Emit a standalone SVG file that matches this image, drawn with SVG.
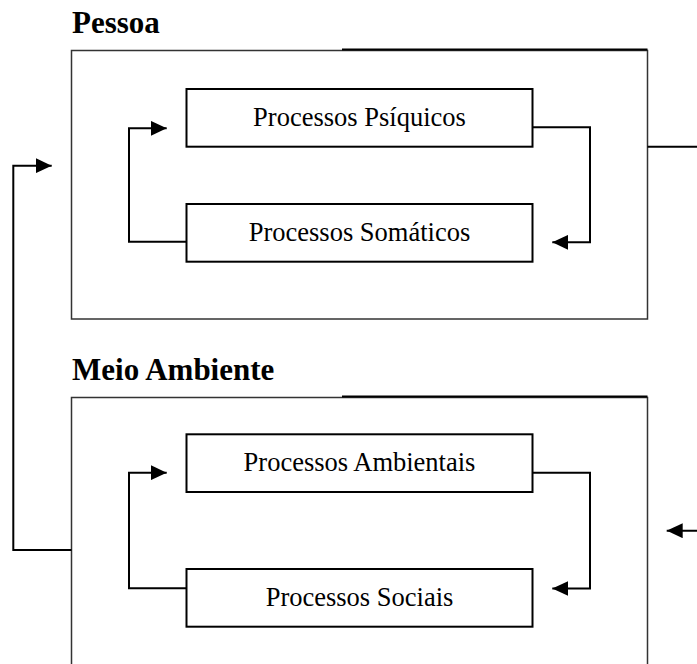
<svg xmlns="http://www.w3.org/2000/svg" width="697" height="664" viewBox="0 0 697 664">
<style>
.title{font-family:"Liberation Serif","Times New Roman",serif;font-weight:bold;font-size:31px;fill:#000}
.lbl{font-family:"Liberation Serif","Times New Roman",serif;font-size:26.5px;fill:#000;text-anchor:middle}
.outer{fill:none;stroke:#333;stroke-width:1.5}
.topr{fill:none;stroke:#000;stroke-width:2}
.box{fill:#fff;stroke:#000;stroke-width:2}
.conn{fill:none;stroke:#000;stroke-width:2}
</style>
<defs>
<marker id="ah" markerUnits="userSpaceOnUse" markerWidth="16" markerHeight="15" refX="16" refY="7.5" orient="auto">
<path d="M0,0 L16,7.5 L0,15 z" fill="#000"/>
</marker>
</defs>
<rect width="697" height="664" fill="#fff"/>
<g id="pessoa">
<text class="title" x="72" y="33">Pessoa</text>
<rect class="outer" x="71.5" y="50.5" width="576" height="268.5"/>
<line class="topr" x1="342" y1="49.5" x2="647.5" y2="49.5"/>
</g>
<g id="psiquicos">
<rect class="box" x="186.5" y="89" width="346" height="57.7"/>
<text class="lbl" x="359.5" y="125.5">Processos Psíquicos</text>
</g>
<g id="somaticos">
<rect class="box" x="186.5" y="204" width="346" height="57.7"/>
<text class="lbl" x="359.5" y="241">Processos Somáticos</text>
</g>
<g id="meio">
<text class="title" x="72" y="380">Meio Ambiente</text>
<path class="outer" d="M71.5,670 V397.5 H647.5 V670"/>
<line class="topr" x1="342" y1="396.5" x2="647.5" y2="396.5"/>
</g>
<g id="ambientais">
<rect class="box" x="186.5" y="434.3" width="346" height="57.7"/>
<text class="lbl" x="359.5" y="471">Processos Ambientais</text>
</g>
<g id="sociais">
<rect class="box" x="186.5" y="569" width="346" height="57.7"/>
<text class="lbl" x="359.5" y="606">Processos Sociais</text>
</g>
<g id="connectors">
<path class="conn" d="M186.5,241.7 H129 V128.3 H166.7" marker-end="url(#ah)"/>
<path class="conn" d="M532.5,127.3 H590 V242.3 H552.3" marker-end="url(#ah)"/>
<path class="conn" d="M186.5,588.3 H129 V472.7 H166.7" marker-end="url(#ah)"/>
<path class="conn" d="M532.5,472.7 H590 V588.5 H552.3" marker-end="url(#ah)"/>
<path class="conn" d="M71.5,550 H13.3 V165.7 H51.7" marker-end="url(#ah)"/>
<path class="conn" d="M647.5,146.7 H700"/>
<path class="conn" d="M700,530.7 H666.7" marker-end="url(#ah)"/>
</g>
</svg>
